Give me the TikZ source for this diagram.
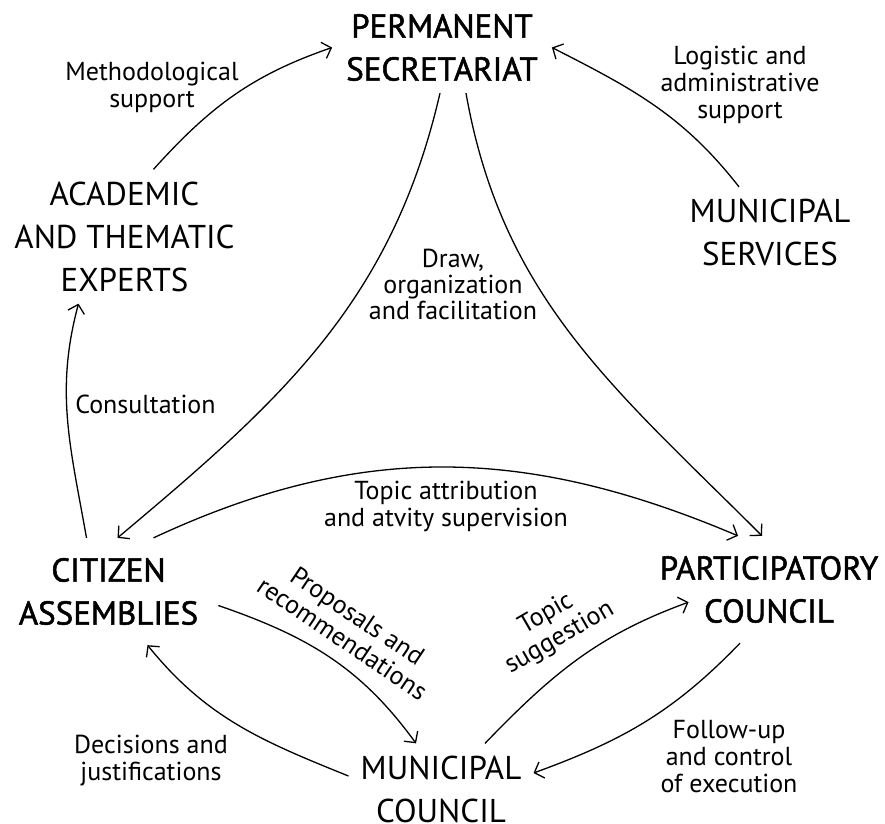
\documentclass[tikz,border=0pt]{standalone}
\usepackage{fontspec}
\setmainfont{PT Sans}
\newfontfamily\semib{PT Sans}[FakeBold=1.6]
\usetikzlibrary{arrows.meta}
\begin{document}
\begin{tikzpicture}[x=1pt, y=1pt,
    >={Straight Barb[length=8pt,width=17pt]},
    actor/.style={align=center, inner sep=12pt, font=\fontsize{33}{43}\selectfont},
    keyactor/.style={actor, font=\fontsize{33}{43}\selectfont\semib},
    note/.style={align=center, inner sep=0pt, font=\fontsize{26}{27}\selectfont},
    flow/.style={->, line width=1.3pt}]
  \useasboundingbox (0,0) rectangle (885,-823);
  \node[keyactor] (sec) at (442,-47.5) {PERMANENT\\SECRETARIAT};
  \node[actor] (exp) at (124.5,-236.5) {ACADEMIC\\AND THEMATIC\\EXPERTS};
  \node[actor] (srv) at (770,-232.5) {MUNICIPAL\\SERVICES};
  \node[keyactor, inner sep=20pt] (cit) at (108.5,-591.5) {CITIZEN\\ASSEMBLIES};
  \node[keyactor, inner sep=20pt] (par) at (769,-589.5) {PARTICIPATORY\\COUNCIL};
  \node[actor] (mun) at (441,-789) {MUNICIPAL\\COUNCIL};
  \node[note] (meth) at (152,-87) {Methodological\\support};
  \node[note] (logi) at (740,-85) {Logistic and\\administrative\\support};
  \node[note, font=\fontsize{26}{26}\selectfont] (facil) at (453,-284) {Draw,\\organization\\and facilitation};
  \node[note] (cons) at (145.5,-404) {Consultation};
  \node[note] (attr) at (446,-506.5) {Topic attribution\\and atvity supervision};
  \node[note, rotate=-34] (prop) at (350,-627) {Proposals and\\recommendations};
  \node[note, rotate=30] (sugg) at (553,-626) {Topic\\suggestion};
  \node[note] (dec) at (151,-761) {Decisions and\\justifications};
  \node[note] (foll) at (729,-757) {Follow-up\\and control\\of execution};
  \draw[flow] ([xshift=29]exp.north) to[out=48, in=199] ([xshift=-2]sec.west);
  \draw[flow] ([xshift=-31]srv.north) to[out=128, in=-27] ([xshift=2]sec.east);
  \draw[flow] ([xshift=-2]sec.south) to[out=257, in=40] ([xshift=9]cit.north);
  \draw[flow] ([xshift=24]sec.south) to[out=280, in=135] ([xshift=-7]par.north);
  \draw[flow] ([xshift=-22]cit.north) to[out=100, in=255] ([xshift=-46]exp.south);
  \draw[flow] ([xshift=45]cit.north) to[out=25, in=157] ([xshift=-31]par.north);
  \draw[flow] ([yshift=-14]cit.east) to[out=-19, in=126] ([xshift=-25]mun.north);
  \draw[flow] ([yshift=13]mun.west) to[out=158, in=309] ([xshift=39]cit.south);
  \draw[flow] ([xshift=44]mun.north) to[out=46, in=200] ([shift={(49,41)}]par.south west);
  \draw[flow] ([xshift=-29]par.south) to[out=226, in=20] ([yshift=16]mun.east);
\end{tikzpicture}
\end{document}
